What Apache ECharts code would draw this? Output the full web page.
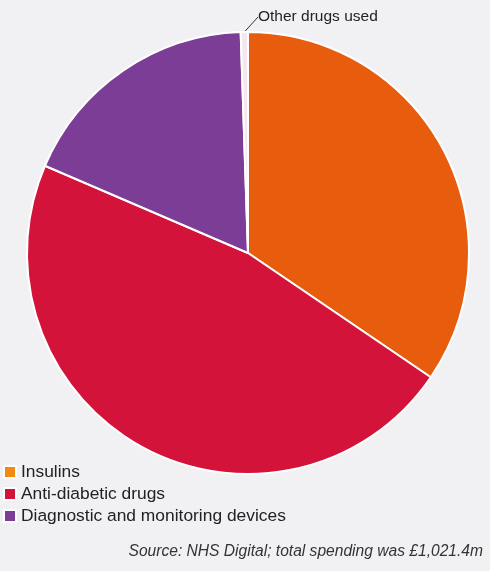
<!DOCTYPE html>
<html><head><meta charset="utf-8">
<script src="https://cdn.jsdelivr.net/npm/echarts@6/dist/echarts.min.js"></script>
<style>html,body{margin:0;padding:0;background:#f1f1f3;}#c{width:490px;height:571px;}</style>
</head><body><div id="c"></div>
<script>
const categories = ["Insulins", "Anti-diabetic drugs", "Diagnostic and monitoring devices", "Other drugs used"];
const values = [352.4, 479.6, 184.0, 5.4]; // £m
const sliceColors = ["#e85c0d", "#d4133b", "#7c3d97", "#f6e6ee"];
const legendColors = ["#f28a12", "#d4133b", "#7c3d97"];
const sourceText = "Source: NHS Digital; total spending was £1,021.4m";

const chart = echarts.init(document.getElementById('c'));
chart.setOption({
  backgroundColor: '#f1f1f3',
  animation: false,
  legend: {
    orient: 'vertical', left: 3, top: 463, padding: 0,
    itemWidth: 12, itemHeight: 12, itemGap: 4,
    icon: 'rect',
    textStyle: { fontFamily: 'Liberation Sans, Arial, sans-serif', fontSize: 17.4, color: '#222', lineHeight: 18 },
    data: categories.slice(0, 3).map((n, i) => ({ name: n, itemStyle: { color: legendColors[i] } }))
  },
  graphic: [{
    type: 'text', right: 7, top: 544,
    style: { text: sourceText, font: 'italic 15.6px Liberation Sans, Arial, sans-serif', fill: '#333' }
  }],
  series: [{
    type: 'pie',
    center: [248, 253], radius: [0, 221],
    startAngle: 90, clockwise: true,
    itemStyle: { borderColor: '#ffffff', borderWidth: 2 },
    label: { show: false },
    labelLine: { show: false },
    emphasis: { disabled: true },
    labelLayout: function (p) {
      if (p.dataIndex === 3) return { x: 252, y: 17, align: 'left', verticalAlign: 'middle' };
      return {};
    },
    data: categories.map((n, i) => {
      const d = { name: n, value: values[i], itemStyle: { color: sliceColors[i] } };
      if (i === 3) {
        d.label = { show: true, position: 'outside', formatter: '{b}', fontFamily: 'Liberation Sans, Arial, sans-serif', fontSize: 15.5, color: '#222', distanceToLabelLine: 0, padding: [0, 0, 0, 6] };
        d.labelLine = { show: true, length: 10, length2: 0, lineStyle: { color: '#333', width: 1 } };
      }
      return d;
    })
  }]
});
</script></body></html>
